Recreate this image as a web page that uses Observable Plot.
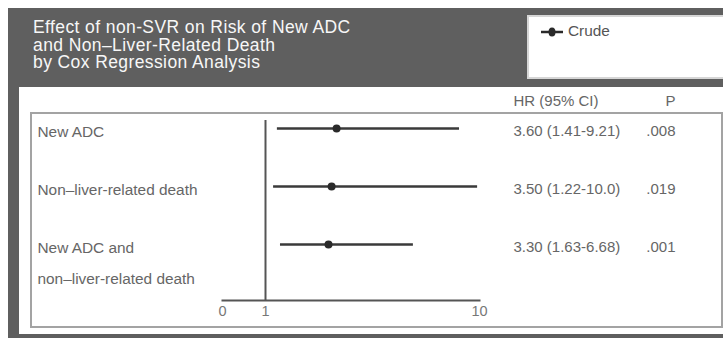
<!DOCTYPE html>
<html>
<head>
<meta charset="utf-8">
<script src="https://cdn.jsdelivr.net/npm/d3@7"></script>
<script src="https://cdn.jsdelivr.net/npm/@observablehq/plot@0.6"></script>
<style>
  html, body { margin: 0; padding: 0; background: #fff; }
  body { width: 723px; height: 338px; position: relative; overflow: hidden;
         font-family: "Liberation Sans", Arial, Helvetica, sans-serif; }
  #frame { position: absolute; left: 8px; top: 8px; width: 715px; height: 330px; background: #5f5f5f; }
  #title { position: absolute; left: 33px; top: 19px; color: #f7f7f7; font-size: 17.5px; letter-spacing: 0.4px; line-height: 17.5px; white-space: nowrap; }
  #legend { position: absolute; left: 527px; top: 15px; width: 200px; height: 60px; background: #fff;
            border: 2px solid #d6d6d6; box-sizing: content-box; }
  #legend svg { position: absolute; left: 10px; top: 9px; }
  #legend span { position: absolute; left: 39px; top: 5px; font-size: 15.4px; color: #555; }
  #panel { position: absolute; left: 19px; top: 87px; width: 704px; height: 247px; background: #fff; }
  #box { position: absolute; left: 30px; top: 112px; width: 689px; height: 212px; border: 2px solid #a3a3a3; }
  #chart { position: absolute; left: 0; top: 0; }
</style>
</head>
<body>
<div id="frame"></div>
<div id="title">Effect of non-SVR on Risk of New ADC<br>and Non–Liver-Related Death<br>by Cox Regression Analysis</div>
<div id="legend">
  <svg width="26" height="12"><line x1="2" y1="6" x2="24" y2="6" stroke="#2a2a2a" stroke-width="2.5"/><ellipse cx="13" cy="6" rx="3.5" ry="4.5" fill="#2a2a2a"/></svg>
  <span>Crude</span>
</div>
<div id="panel"></div>
<div id="box"></div>
<div id="chart"></div>
<script>
// Rows (categories), top to bottom
const names = ["New ADC", "Non–liver-related death", "New ADC and\nnon–liver-related death"];
// Positions as drawn in the picture (hazard-ratio scale)
const est = [3.99, 3.78, 3.65];
const lo  = [1.50, 1.34, 1.63];
const hi  = [9.16, 9.92, 7.22];
// Printed columns
const hrText = ["3.60 (1.41-9.21)", "3.50 (1.22-10.0)", "3.30 (1.63-6.68)"];
const pText  = [".008", ".019", ".001"];
const headers = ["HR (95% CI)", "P"];
const xTicks = [0, 1, 10];

const rows = names.map((name, i) => ({name, est: est[i], lo: lo[i], hi: hi[i], hr: hrText[i], p: pText[i]}));

const font = `"Liberation Sans", Arial, Helvetica, sans-serif`;
const grey = "#666";

// broken axis: 0–1 is a short stretch, 1–10 is linear
const piece = d3.scaleLinear().domain([0, 1, 10]).range([0, 43, 257]);

const chart = Plot.plot({
  width: 723,
  height: 338,
  marginLeft: 222,
  marginRight: 244,
  marginTop: 120,
  marginBottom: 38,
  style: {background: "transparent", fontFamily: font, fontSize: "15px", color: grey, overflow: "visible"},
  x: {type: "linear", transform: piece, domain: [0, 257], axis: null},
  y: {type: "point", domain: names, range: [128, 244], padding: 0, axis: null},
  marks: [
    Plot.frame({anchor: "bottom", stroke: "#555", strokeWidth: 2}),
    Plot.ruleX([1], {stroke: "#555", strokeWidth: 2}),
    // tick labels of the broken axis
    Plot.text(xTicks, {x: d => d, text: d => String(d), frameAnchor: "bottom", dy: 15, fontSize: 14.5, fill: "#777"}),
    Plot.ruleY(rows, {y: "name", x1: "lo", x2: "hi", stroke: "#3a3a3a", strokeWidth: 2.5}),
    Plot.dot(rows, {x: "est", y: "name", r: 4, fill: "#2a2a2a", stroke: null}),
    Plot.text(rows, {y: "name", text: "name", frameAnchor: "left", textAnchor: "start", dx: -185,
                     lineAnchor: "top", dy: -13, lineHeight: 2, fontSize: 15.4, fill: grey}),
    Plot.text(rows, {y: "name", text: "hr", frameAnchor: "right", textAnchor: "start", dx: 34,
                     lineAnchor: "top", dy: -3, fontSize: 15, fill: grey}),
    Plot.text(rows, {y: "name", text: "p", frameAnchor: "right", textAnchor: "end", dx: 196,
                     lineAnchor: "top", dy: -3, fontSize: 15, fill: grey}),
    Plot.text([headers[0]], {frameAnchor: "top-right", textAnchor: "start", dx: 34, dy: -25, fontSize: 15, fill: grey}),
    Plot.text([headers[1]], {frameAnchor: "top-right", textAnchor: "end", dx: 196, dy: -25, fontSize: 15, fill: grey})
  ]
});
document.getElementById("chart").appendChild(chart);
</script>
</body>
</html>
